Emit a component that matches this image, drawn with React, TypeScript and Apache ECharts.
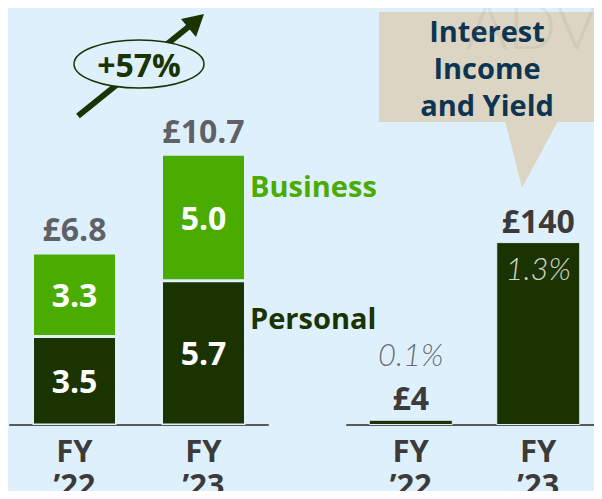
import React, { useEffect, useRef } from "react";
import * as echarts from "echarts";

const categories = ["FY\n\u201922", "FY\n\u201923"];
const personal = [3.5, 5.7];
const business = [3.3, 5.0];
const totals = [6.8, 10.7];
const interestIncome = [4, 140];
const yieldPct = ["0.1%", "1.3%"];
const growthLabel = "+57%";

const FONT = "'Open Sans', Lato, sans-serif";
const LIGHTFONT = "Lato, 'Open Sans', sans-serif";
const DARK = "#1a3300";
const LIGHT = "#4aab00";
const GREY = "#3d3a3a";
const BG = "#dff0fd";

export default function App() {
  const ref = useRef<HTMLDivElement>(null);
  useEffect(() => {
    if (!ref.current) return;
    const chart = echarts.init(ref.current, null, { renderer: "svg" });
    const axisLabel = {
      color: GREY,
      fontFamily: FONT,
      fontWeight: 700,
      fontSize: 31,
      lineHeight: 34,
      margin: 8,
    };
    const xAxisBase = {
      type: "category" as const,
      data: categories,
      axisLine: { lineStyle: { color: "#5a5a5a", width: 2 } },
      axisTick: { show: false },
      axisLabel,
    };
    const segLabel = {
      show: true,
      position: "inside" as const,
      color: "#ffffff",
      fontFamily: FONT,
      fontWeight: 700,
      fontSize: 32,
      formatter: (p: any) => p.value.toFixed(1),
    };
    chart.setOption({
      animation: false,
      backgroundColor: BG,
      grid: [
        { left: 10, right: 334, top: 20, bottom: 74, outerBoundsMode: "none" },
        { left: 347, right: 0, top: 20, bottom: 74, outerBoundsMode: "none" },
      ],
      xAxis: [
        { ...xAxisBase, gridIndex: 0 },
        { ...xAxisBase, gridIndex: 1 },
      ],
      yAxis: [
        { type: "value", gridIndex: 0, min: 0, max: 16, show: false },
        { type: "value", gridIndex: 1, min: 0, max: 310, show: false },
      ],
      series: [
        {
          type: "bar",
          name: "Personal",
          stack: "a",
          xAxisIndex: 0,
          yAxisIndex: 0,
          barWidth: 84,
          data: personal,
          itemStyle: { color: DARK, borderColor: BG, borderWidth: 1.5 },
          label: segLabel,
        },
        {
          type: "bar",
          name: "Business",
          stack: "a",
          xAxisIndex: 0,
          yAxisIndex: 0,
          barWidth: 84,
          data: business,
          itemStyle: { color: LIGHT, borderColor: BG, borderWidth: 1.5 },
          label: segLabel,
        },
        {
          type: "scatter",
          xAxisIndex: 0,
          yAxisIndex: 0,
          symbolSize: 0,
          data: totals,
          label: {
            show: true,
            position: "top",
            distance: 8,
            formatter: (p: any) => "\u00a3" + p.value.toFixed(1),
            color: GREY,
            fontFamily: FONT,
            fontWeight: 700,
            fontSize: 32,
          },
        },
        {
          type: "bar",
          name: "Interest Income",
          xAxisIndex: 1,
          yAxisIndex: 1,
          barWidth: 84,
          data: interestIncome,
          itemStyle: { color: DARK, borderColor: BG, borderWidth: 1 },
          label: {
            show: true,
            position: "top",
            distance: 6,
            formatter: (p: any) => "\u00a3" + p.value,
            color: GREY,
            fontFamily: FONT,
            fontWeight: 700,
            fontSize: 32,
          },
        },
        {
          type: "scatter",
          xAxisIndex: 1,
          yAxisIndex: 1,
          symbolSize: 0,
          data: interestIncome.map((v, i) => ({
            value: v,
            label:
              i === 0
                ? { position: "top", distance: 50, color: "#4a4a4a" }
                : { position: "bottom", distance: 10, color: "#ffffff" },
          })),
          label: {
            show: true,
            formatter: (p: any) => yieldPct[p.dataIndex],
            fontFamily: LIGHTFONT,
            fontStyle: "italic",
            fontWeight: 300,
            fontSize: 31,
          },
        },
      ],
      graphic: [
        {
          type: "text",
          left: 250,
          top: 171,
          style: { text: "Business", fill: LIGHT, font: `700 29px ${FONT}` },
        },
        {
          type: "text",
          left: 250,
          top: 303,
          style: { text: "Personal", fill: DARK, font: `700 29px ${FONT}` },
        },
        // growth arrow
        {
          type: "line",
          shape: { x1: 78, y1: 116, x2: 192, y2: 24 },
          style: { stroke: DARK, lineWidth: 6 },
        },
        {
          type: "polygon",
          shape: { points: [[204, 14], [196, 37], [181, 19]] },
          style: { fill: DARK },
        },
        {
          type: "ellipse",
          shape: { cx: 139, cy: 64, rx: 65, ry: 24 },
          style: { fill: BG, stroke: DARK, lineWidth: 1.5 },
        },
        {
          type: "text",
          x: 139,
          y: 64,
          style: {
            text: growthLabel,
            fill: DARK,
            font: `700 32px ${FONT}`,
            align: "center",
            verticalAlign: "middle",
          },
        },
        // callout
        {
          type: "rect",
          shape: { x: 379, y: 12, width: 216, height: 110 },
          style: { fill: "#ddd5c3" },
        },
        {
          type: "polygon",
          shape: { points: [[505, 121], [558, 121], [522, 188]] },
          style: { fill: "#ddd5c3" },
        },
        {
          type: "text",
          x: 487,
          y: 67,
          style: {
            text: "Interest\nIncome\nand Yield",
            fill: "#0d3552",
            font: `700 29px ${FONT}`,
            lineHeight: 37,
            align: "center",
            verticalAlign: "middle",
          },
        },
        {
          type: "text",
          x: 466,
          y: -8,
          style: {
            text: "ADV",
            fill: "rgba(120,120,120,0.12)",
            font: `300 64px ${LIGHTFONT}`,
          },
        },
      ],
    });
    return () => chart.dispose();
  }, []);
  return <div ref={ref} style={{ width: 602, height: 499, margin: -8 }} />;
}
